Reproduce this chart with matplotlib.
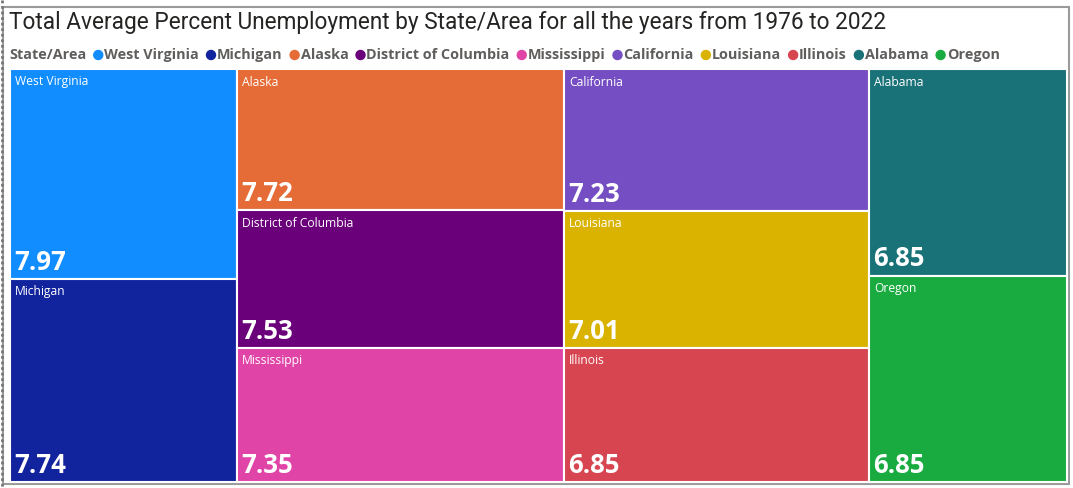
import matplotlib.pyplot as plt
from matplotlib.patches import Rectangle, Circle

states = ["West Virginia", "Michigan", "Alaska", "District of Columbia", "Mississippi",
          "California", "Louisiana", "Illinois", "Alabama", "Oregon"]
values = [7.97, 7.74, 7.72, 7.53, 7.35, 7.23, 7.01, 6.85, 6.85, 6.85]
colors = ["#118DFF", "#12239E", "#E66C37", "#6B007B", "#E044A7",
          "#744EC2", "#D9B300", "#D64550", "#197278", "#1AAB40"]
column_sizes = [2, 3, 3, 2]

title = "Total Average Percent Unemployment by State/Area for all the years from 1976 to 2022"
legend_title = "State/Area"

W, H = 1073, 488
fig = plt.figure(figsize=(W / 100, H / 100), dpi=100)
ax = fig.add_axes([0, 0, 1, 1])
ax.set_xlim(0, W)
ax.set_ylim(H, 0)
ax.axis("off")

# frame
ax.add_patch(Rectangle((3, 7), 1066, 477, fill=False, edgecolor="#9a9a9a", lw=1.5))
ax.plot([1.5, 1.5], [0, H], color="#777777", lw=2, ls=(0, (1, 1)))

ax.text(9, 23, title, fontsize=16.3, family="Roboto", color="#252423", va="center")

# legend
fig.canvas.draw()
renderer = fig.canvas.get_renderer()
lx, ly = 9, 55
t = ax.text(lx, ly, legend_title, fontsize=10.4, fontweight="bold", family="Open Sans",
            color="#605E5C", va="center")
bb = t.get_window_extent(renderer)
lx += bb.width + 8
for name, c in zip(states, colors):
    ax.add_patch(Circle((lx + 4, ly), 4.5, color=c))
    t = ax.text(lx + 10, ly, name, fontsize=10.4, fontweight="bold", family="Open Sans",
                color="#605E5C", va="center")
    bb = t.get_window_extent(renderer)
    lx += 10 + bb.width + 8

# treemap: columns, widths by column sum, heights by share inside column
x0, x1, y0, y1 = 10, 1067, 69, 482
total = sum(values)
i = 0
cx = x0
for n in column_sizes:
    col = values[i:i + n]
    cw = (x1 - x0) * sum(col) / total
    cy = y0
    for k, v in enumerate(col):
        ch = (y1 - y0) * v / sum(col)
        idx = i + k
        ax.add_patch(Rectangle((cx, cy), cw, ch, facecolor=colors[idx],
                               edgecolor="white", lw=1.5))
        ax.text(cx + 5, cy + 13, states[idx], fontsize=8.7, family="Open Sans",
                color="white", va="center")
        ax.text(cx + 4, cy + ch - 3, f"{v:.2f}", fontsize=18.5, fontweight="bold",
                family="Open Sans", color="white", va="bottom")
        cy += ch
    cx += cw
    i += n

fig.savefig("out.png", dpi=100)
